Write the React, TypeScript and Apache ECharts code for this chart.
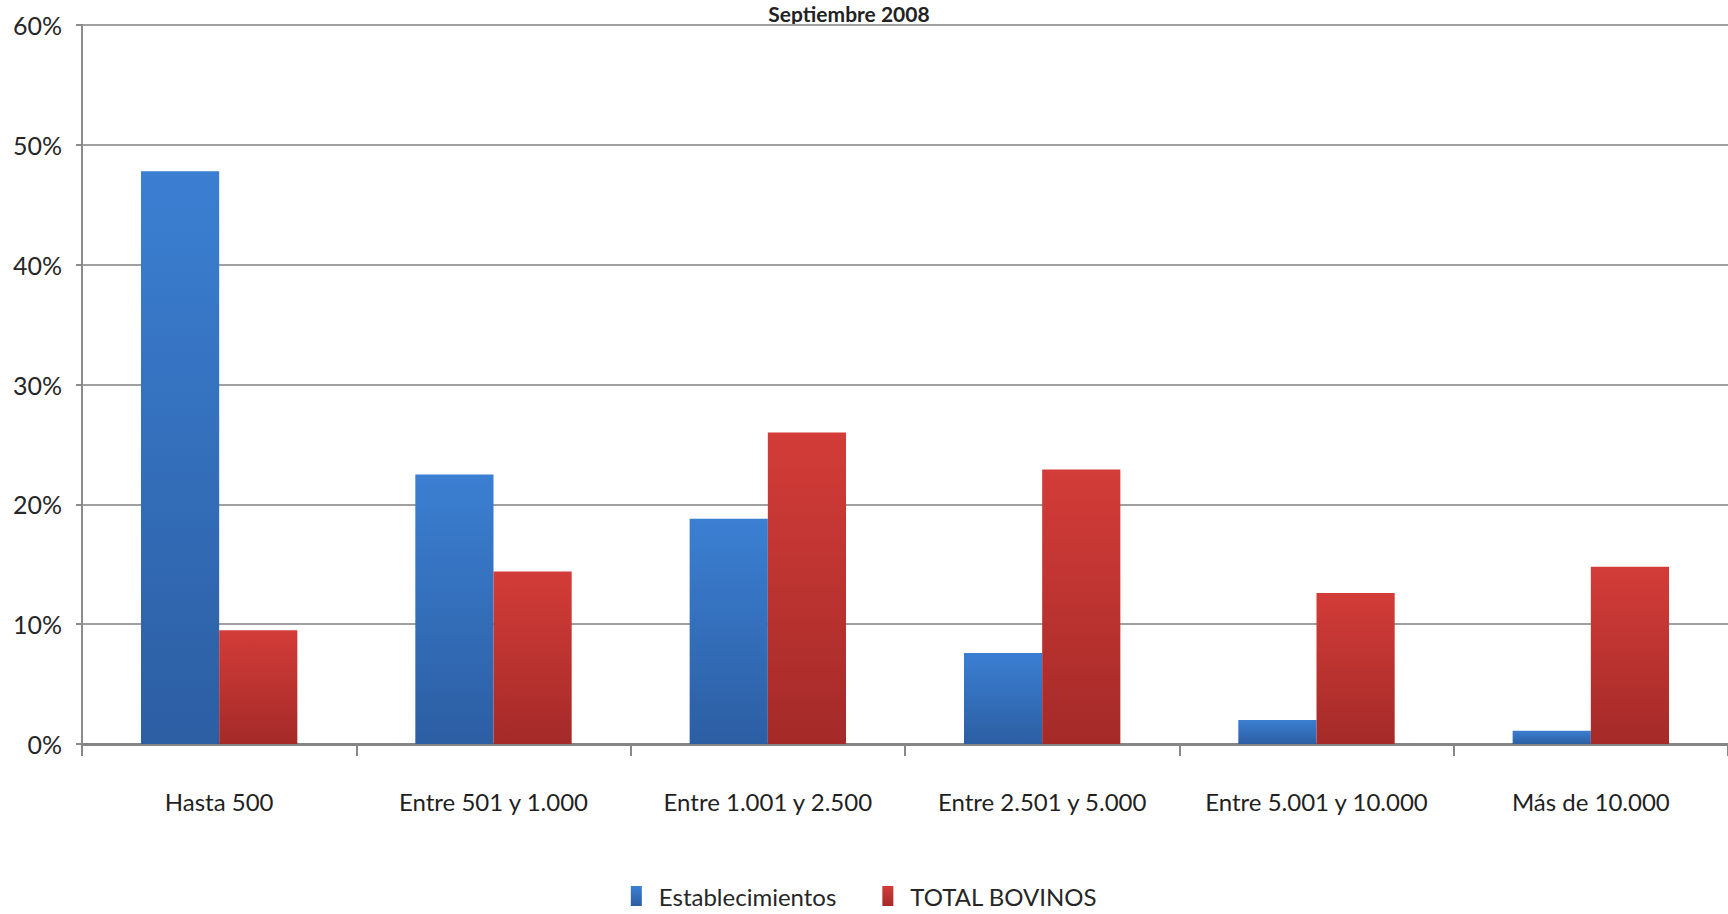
import React, { useEffect, useRef } from "react";
import * as echarts from "echarts";

const categories = [
  "Hasta 500",
  "Entre 501 y 1.000",
  "Entre 1.001 y 2.500",
  "Entre 2.501 y 5.000",
  "Entre 5.001 y 10.000",
  "Más de 10.000",
];
const establecimientos = [47.8, 22.5, 18.8, 7.6, 2.0, 1.1];
const totalBovinos = [9.5, 14.4, 26.0, 22.9, 12.6, 14.8];
const seriesNames = ["Establecimientos", "TOTAL BOVINOS"];
const titleText = "Septiembre 2008";

const FONT = "Lato, 'Open Sans', 'Noto Sans', sans-serif";

export default function App() {
  const ref = useRef<HTMLDivElement>(null);
  useEffect(() => {
    document.body.style.margin = "0";
    const chart = echarts.init(ref.current!, null, { renderer: "svg" });
    const blue = new echarts.graphic.LinearGradient(0, 0, 0, 1, [
      { offset: 0, color: "#3b7fd2" },
      { offset: 1, color: "#2c5ea3" },
    ]);
    const red = new echarts.graphic.LinearGradient(0, 0, 0, 1, [
      { offset: 0, color: "#d33c38" },
      { offset: 1, color: "#a42a28" },
    ]);
    chart.setOption({
      animation: false,
      backgroundColor: "#ffffff",
      color: ["#3573c4", "#c53432"],
      graphic: [
        {
          type: "text",
          x: 849,
          y: 3,
          style: {
            text: titleText,
            fontFamily: FONT,
            fontWeight: "bold",
            fontSize: 21,
            fill: "#222",
            align: "center",
            verticalAlign: "top",
          },
        },
      ],
      grid: { left: 82, right: 0, top: 25, bottom: 170 },
      legend: {
        data: seriesNames,
        left: "center",
        top: 879,
        icon: "rect",
        itemWidth: 11,
        itemHeight: 20,
        itemGap: 46,
        textStyle: { fontFamily: FONT, fontSize: 24, color: "#262626", padding: [0, 0, 0, 12] },
      },
      xAxis: {
        type: "category",
        data: categories,
        axisLine: { lineStyle: { color: "#858585", width: 3 } },
        axisTick: { show: true, length: 12, lineStyle: { color: "#888", width: 2 } },
        axisLabel: { fontFamily: FONT, fontSize: 24, color: "#1f1f1f", margin: 45, interval: 0 },
      },
      yAxis: {
        type: "value",
        min: 0,
        max: 60,
        interval: 10,
        axisLine: { show: true, lineStyle: { color: "#8c8c8c", width: 2 } },
        axisTick: { show: true, length: 6, lineStyle: { color: "#8c8c8c", width: 2 } },
        axisLabel: {
          fontFamily: FONT,
          fontSize: 25,
          color: "#262626",
          margin: 20,
          formatter: (v: number) => v + "%",
        },
        splitLine: { lineStyle: { color: "#a0a0a0", width: 2 } },
      },
      series: [
        {
          name: seriesNames[0],
          type: "bar",
          data: establecimientos,
          barWidth: "28.5%",
          barGap: "0%",
          itemStyle: { color: blue },
        },
        {
          name: seriesNames[1],
          type: "bar",
          data: totalBovinos,
          barWidth: "28.5%",
          barGap: "0%",
          itemStyle: { color: red },
        },
      ],
    });
    return () => chart.dispose();
  }, []);
  return <div ref={ref} style={{ width: 1728, height: 914 }} />;
}
